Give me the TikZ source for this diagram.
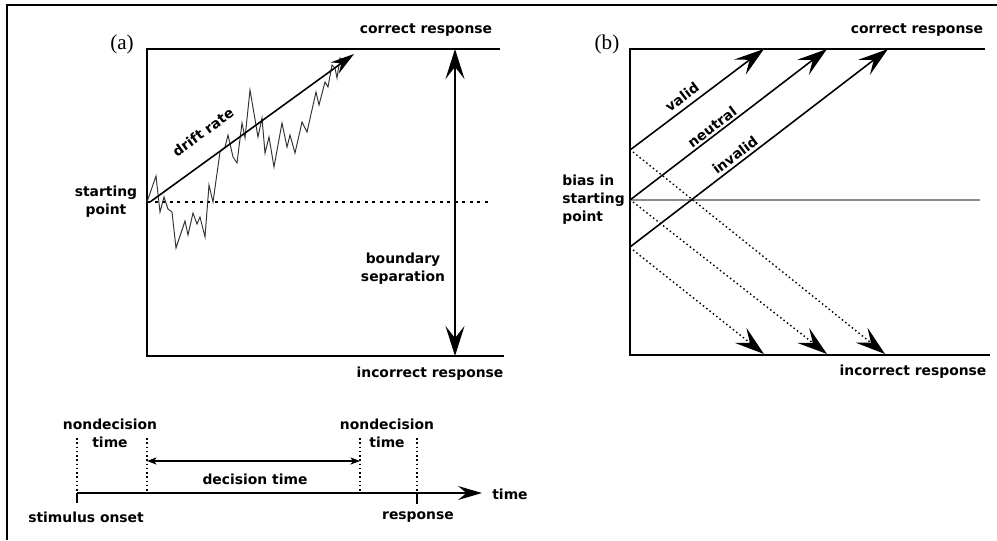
\documentclass[tikz,border=0pt]{standalone}
\usepackage{fontspec}
\setsansfont{DejaVu Sans}
\setmainfont{Liberation Serif}
\usetikzlibrary{arrows.meta}

\begin{document}
\begin{tikzpicture}[x=0.2mm, y=-0.2mm,
  lbl/.style={font=\sffamily\bfseries\fontsize{7.9}{10.2}\selectfont, inner sep=0pt, align=center},
  tag/.style={font=\fontsize{12}{13}\selectfont, inner sep=0pt},
  bound/.style={line width=1.1pt},
  dotline/.style={line width=0.8pt, dash pattern=on 0.6mm off 0.9mm},
  fine/.style={line width=0.8pt, dash pattern=on 0.3mm off 0.55mm},
  bigarr/.style={line width=0.9pt, >={Stealth[length=6mm,width=3.8mm,inset=2.4mm]}},
  midarr/.style={line width=0.9pt, >={Stealth[length=4.8mm,width=2.8mm,inset=1.7mm]}},
  smallarr/.style={line width=0.8pt, >={Stealth[length=1.9mm,width=1.4mm,inset=0.5mm]}},
  walk/.style={line width=0.55pt, black!80}]
\useasboundingbox (0,0) rectangle (997,540);
% frame
\draw[bound] (997,5) -- (7,5) -- (7,540);

% panel (a)
\coordinate (aTL) at (147,49);
\coordinate (aTR) at (500,49);
\coordinate (aBL) at (147,356);
\coordinate (aBR) at (504,356);
\draw[bound] (aTR) -- (aTL) -- (aBL) -- (aBR);
\coordinate (aS) at (147,202);
\coordinate (aSE) at (492,202);
\draw[dotline] (aS) -- (aSE);
\draw[walk] plot coordinates {(147,202) (156,176) (160,212) (164,197) (168,209) (172,212)
  (176,248) (185,221) (188,235) (193,213) (197,224) (200,217) (205,237) (209,185)
  (213,202) (220,152) (225,147) (228,135) (233,157) (237,163) (242,123) (245,138)
  (250,90) (258,137) (262,118) (265,153) (269,137) (274,167) (282,123) (287,147)
  (290,135) (295,153) (302,122) (307,132) (316,92) (319,105) (325,82) (328,87)
  (332,65) (335,68) (337,78) (340,58) (345,62) (350,57)};
\coordinate (d0) at (150,202);
\coordinate (d1) at (354,54);
\draw[midarr, ->] (d0) -- (d1);
\node[lbl, rotate=36] (drift) at (203,132) {drift rate};
\coordinate (sepTop) at (455,49);
\coordinate (sepBot) at (455,356);
\draw[bigarr, <->] (sepTop) -- (sepBot);
\node[tag] (tagA) at (122,44) {(a)};
\node[lbl] (corrA) at (426,30) {correct response};
\node[lbl] (incorrA) at (430,374) {incorrect response};
\node[lbl] (startA) at (106,202) {starting\\point};
\node[lbl] (boundA) at (403,269) {boundary\\separation};

% panel (b)
\coordinate (bTL) at (630,49);
\coordinate (bTR) at (985,49);
\coordinate (bBL) at (630,355);
\coordinate (bBR) at (990,355);
\draw[bound] (bTR) -- (bTL) -- (bBL) -- (bBR);
\coordinate (bM) at (630,200);
\coordinate (bME) at (980,200);
\draw[line width=0.6pt, black!45] (bM) -- (bME);
\coordinate (s1) at (630,150);
\coordinate (s2) at (630,200);
\coordinate (s3) at (630,247);
\coordinate (e1) at (764,49);
\coordinate (e2) at (827,49);
\coordinate (e3) at (888,49);
\draw[bigarr, ->] (s1) -- (e1);
\draw[bigarr, ->] (s2) -- (e2);
\draw[bigarr, ->] (s3) -- (e3);
\coordinate (g1) at (633,152);
\coordinate (g2) at (633,202);
\coordinate (g3) at (633,250);
\coordinate (f1) at (885,354);
\coordinate (f2) at (827,354);
\coordinate (f3) at (764,354);
\draw[bigarr, fine, ->] (g1) -- (f1);
\draw[bigarr, fine, ->] (g2) -- (f2);
\draw[bigarr, fine, ->] (g3) -- (f3);
\node[lbl, rotate=37] (valid) at (682,97) {valid};
\node[lbl, rotate=37] (neutral) at (712,127) {neutral};
\node[lbl, rotate=37] (invalid) at (735,155) {invalid};
\node[tag] (tagB) at (607,44) {(b)};
\node[lbl] (corrB) at (917,30) {correct response};
\node[lbl] (incorrB) at (913,372) {incorrect response};
\node[lbl, align=left, anchor=west] (bias) at (562,200) {bias in\\starting\\point};

% time line
\coordinate (t0) at (77,493);
\coordinate (t1) at (482,493);
\draw[midarr, ->] (t0) -- (t1);
\coordinate (r0) at (417,493);
\draw[bound] (t0) -- (77,503);
\draw[bound] (r0) -- (417,504);
\foreach \xx in {77,147,360,417}
  \draw[fine] (\xx,438) -- (\xx,493);
\coordinate (dA) at (147,461);
\coordinate (dB) at (360,461);
\draw[smallarr, <->] (dA) -- (dB);
\node[lbl] (nd1) at (110,433) {nondecision\\time};
\node[lbl] (nd2) at (387,433) {nondecision\\time};
\node[lbl] (dec) at (255,479) {decision time};
\node[lbl, anchor=west] (timelbl) at (492,494) {time};
\node[lbl] (onset) at (86,517) {stimulus onset};
\node[lbl] (resp) at (418,517) {response};
\end{tikzpicture}
\end{document}
